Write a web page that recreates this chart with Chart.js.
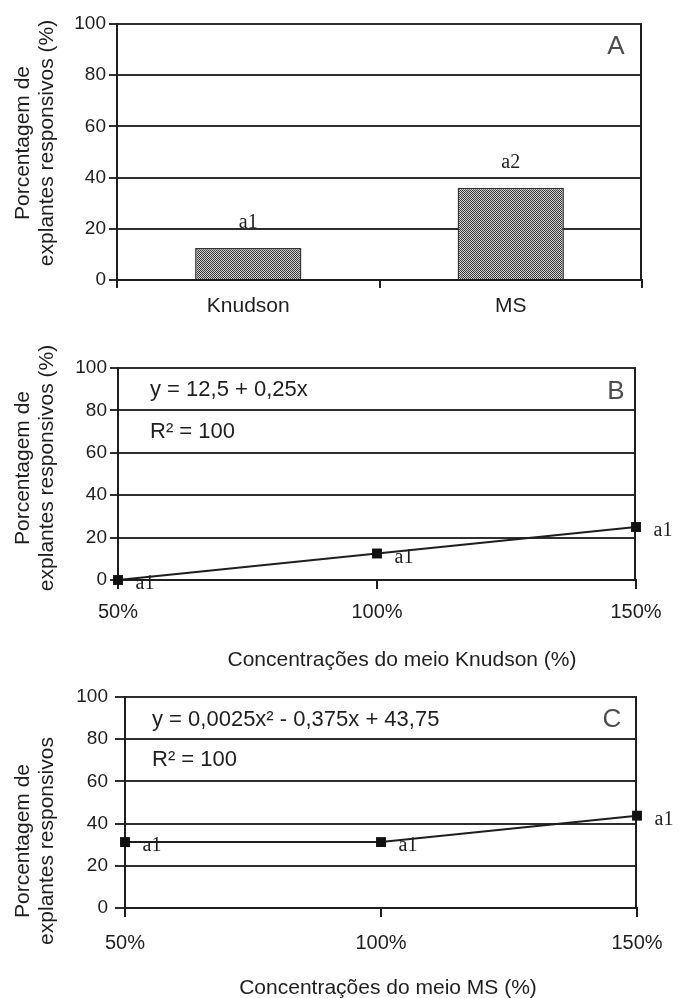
<!DOCTYPE html>
<html>
<head>
<meta charset="utf-8">
<script src="https://cdn.jsdelivr.net/npm/chart.js@4.4.1/dist/chart.umd.min.js"></script>
<style>
  html, body { margin: 0; padding: 0; background: #fff; }
  #wrap { position: relative; width: 685px; height: 998px; }
  #wrap canvas { position: absolute; left: 0; }
</style>
</head>
<body>
<div id="wrap">
  <canvas id="cA" width="685" height="330" style="top:0"></canvas>
  <canvas id="cB" width="685" height="343" style="top:330px"></canvas>
  <canvas id="cC" width="685" height="328" style="top:670px"></canvas>
</div>
<script>
// ── dados ─────────────────────────────────────────────
const meios = ['Knudson', 'MS'];
const respMeio = [12.5, 36];
const letrasMeio = ['a1', 'a2'];

const conc = [50, 100, 150];
const concLabels = ['50%', '100%', '150%'];
const respKnudson = [0, 12.5, 25];
const letrasKnudson = ['a1', 'a1', 'a1'];
const respMS = [31.25, 31.25, 43.75];
const letrasMS = ['a1', 'a1', 'a1'];

const yTicks = [0, 20, 40, 60, 80, 100];

// ── estilo ────────────────────────────────────────────
const INK = '#1e1e1e', GRID = '#2e2e2e', LETTER = '#4d4d4d';
const SANS = "'Liberation Sans', Arial, sans-serif";
const SERIF = "'Liberation Serif', 'Times New Roman', serif";
Chart.defaults.font.family = SANS;
Chart.defaults.color = INK;

// pontilhado das barras
const pc = document.createElement('canvas');
pc.width = pc.height = 2;
const px = pc.getContext('2d');
px.fillStyle = '#d2d2d2'; px.fillRect(0, 0, 2, 2);
px.fillStyle = '#383838'; px.fillRect(0, 0, 1, 1); px.fillRect(1, 1, 1, 1);
const stipple = px.createPattern(pc, 'repeat');

const yScale = (w, tl, pad) => ({
  min: 0, max: 100,
  afterBuildTicks: (s) => { s.ticks = yTicks.map((v) => ({ value: v })); },
  grid: { color: GRID, lineWidth: 2, tickLength: tl },
  border: { color: INK, width: 2 },
  ticks: { font: { size: 19 }, padding: pad, color: INK },
  afterFit: (s) => { s.width = w; },
});

const xConc = (h, pad) => ({
  type: 'linear', min: 50, max: 150,
  afterBuildTicks: (s) => { s.ticks = conc.map((v) => ({ value: v })); },
  grid: { drawOnChartArea: false, color: INK, lineWidth: 2, tickLength: 9 },
  border: { color: INK, width: 2 },
  ticks: { font: { size: 20 }, padding: pad, color: INK,
    callback: (v, i) => concLabels[i] },
  afterFit: (s) => { s.height = h; },
});

// borda direita da área do gráfico
const frame = {
  id: 'frame',
  beforeDatasetsDraw(chart) {
    const { ctx: g, chartArea: a } = chart;
    g.save();
    g.strokeStyle = INK; g.lineWidth = 2;
    g.beginPath();
    g.moveTo(Math.round(a.right) - 1, a.top);
    g.lineTo(Math.round(a.right) - 1, a.bottom);
    g.stroke();
    g.restore();
  },
};

// textos (títulos, letras, equações)
const anot = (build) => ({
  id: 'anot',
  afterDraw(chart) {
    const g = chart.ctx;
    build(chart, chart.chartArea).forEach((it) => {
      g.save();
      g.font = it.font || '21px ' + SANS;
      g.fillStyle = it.color || INK;
      g.textAlign = it.align || 'left';
      g.textBaseline = 'middle';
      g.translate(it.x, it.y);
      if (it.rot) g.rotate(it.rot);
      g.fillText(it.t, 0, 0);
      g.restore();
    });
  },
});

const yTitle = (lines, cy) => lines.map((t, i) => ({
  t, x: 23 + i * 24, y: cy, rot: -Math.PI / 2, align: 'center', font: '21px ' + SANS,
}));

const pointLetters = (chart, letras) => chart.getDatasetMeta(0).data.map((p, i) => ({
  t: letras[i], x: p.x + 27, y: p.y + 4, align: 'center', font: '20px ' + SERIF,
}));

const common = {
  responsive: false, animation: false,
  plugins: { legend: { display: false }, tooltip: { enabled: false } },
};

const lineStyle = {
  borderColor: INK, borderWidth: 2, tension: 0, clip: false,
  pointStyle: 'rect', pointRadius: 7, pointBackgroundColor: '#111', pointBorderWidth: 0,
};

// ── A: meios ──────────────────────────────────────────
new Chart(document.getElementById('cA'), {
  type: 'bar',
  data: { labels: meios, datasets: [{ data: respMeio, backgroundColor: stipple,
    borderColor: '#333', borderWidth: 1.5, categoryPercentage: 1, barPercentage: 0.405 }] },
  options: { ...common,
    layout: { padding: { top: 24, right: 43, bottom: 0, left: 0 } },
    scales: {
      x: { grid: { offset: true, drawOnChartArea: false, color: INK, lineWidth: 2, tickLength: 8 },
        border: { color: INK, width: 2 },
        ticks: { font: { size: 21 }, padding: 6, color: INK },
        afterFit: (s) => { s.height = 50; } },
      y: yScale(117, 8, 3),
    } },
  plugins: [frame, anot((chart, a) => [
    ...yTitle(['Porcentagem de', 'explantes responsivos (%)'], 143),
    { t: 'A', x: a.right - 26, y: a.top + 23, align: 'center', font: '26px ' + SANS, color: LETTER },
    ...chart.getDatasetMeta(0).data.map((b, i) => ({
      t: letrasMeio[i], x: b.x, y: b.y - 25, align: 'center', font: '20px ' + SERIF })),
  ])],
});

// ── B: concentrações Knudson ──────────────────────────
new Chart(document.getElementById('cB'), {
  type: 'line',
  data: { datasets: [{ data: conc.map((c, i) => ({ x: c, y: respKnudson[i] })), ...lineStyle }] },
  options: { ...common,
    layout: { padding: { top: 38, right: 49, bottom: 0, left: 0 } },
    scales: { x: xConc(93, 11), y: yScale(118, 8, 3) } },
  plugins: [frame, anot((chart, a) => [
    ...yTitle(['Porcentagem de', 'explantes responsivos (%)'], 138),
    { t: 'y = 12,5 + 0,25x', x: a.left + 32, y: a.top + 22, font: '22px ' + SANS },
    { t: 'R² = 100', x: a.left + 32, y: a.top + 64, font: '22px ' + SANS },
    { t: 'B', x: a.right - 20, y: a.top + 24, align: 'center', font: '26px ' + SANS, color: LETTER },
    ...pointLetters(chart, letrasKnudson),
    { t: 'Concentrações do meio Knudson (%)', x: 402, y: 330, align: 'center', font: '21px ' + SANS },
  ])],
});

// ── C: concentrações MS ───────────────────────────────
new Chart(document.getElementById('cC'), {
  type: 'line',
  data: { datasets: [{ data: conc.map((c, i) => ({ x: c, y: respMS[i] })), ...lineStyle }] },
  options: { ...common,
    layout: { padding: { top: 27, right: 48, bottom: 0, left: 0 } },
    scales: { x: xConc(90, 14), y: yScale(125, 10, 7) } },
  plugins: [frame, anot((chart, a) => [
    ...yTitle(['Porcentagem de', 'explantes responsivos'], 171),
    { t: 'y = 0,0025x² - 0,375x + 43,75', x: a.left + 27, y: a.top + 23, font: '22px ' + SANS },
    { t: 'R² = 100', x: a.left + 27, y: a.top + 63, font: '22px ' + SANS },
    { t: 'C', x: a.right - 25, y: a.top + 23, align: 'center', font: '26px ' + SANS, color: LETTER },
    ...pointLetters(chart, letrasMS),
    { t: 'Concentrações do meio MS (%)', x: 388, y: 318, align: 'center', font: '21px ' + SANS },
  ])],
});
</script>
</body>
</html>
